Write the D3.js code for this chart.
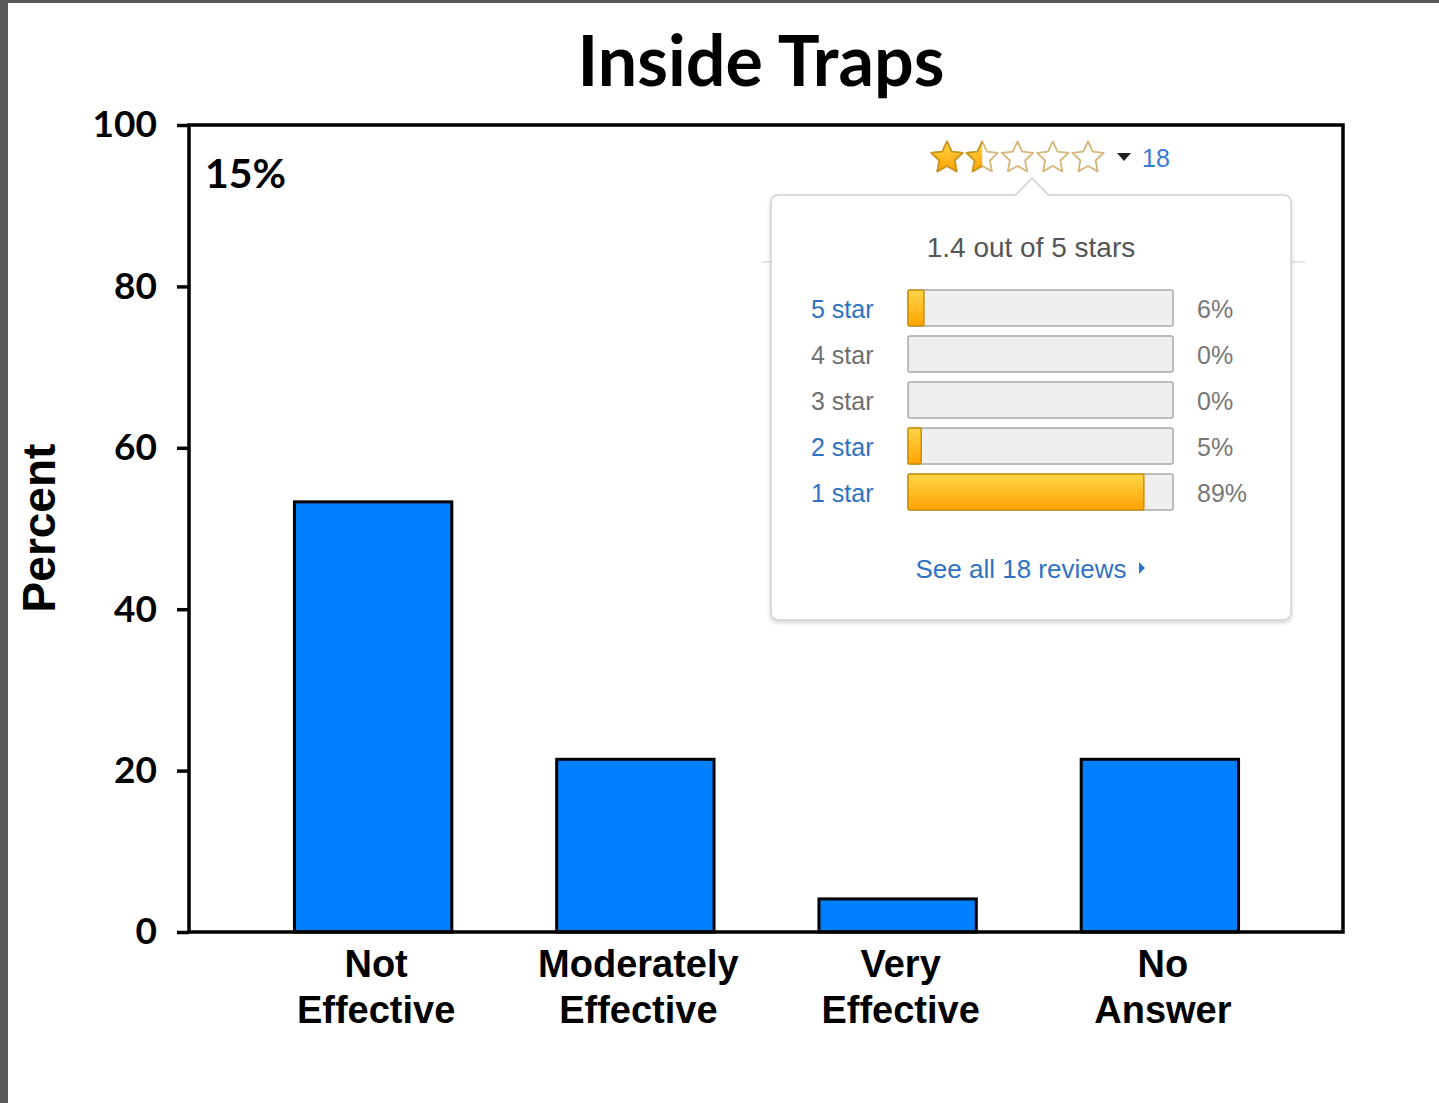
<!doctype html>
<html lang="en">
<head>
  <meta charset="utf-8">
  <title>Inside Traps</title>
  <style>
    body { margin: 0; background: #fff; }
    svg { display: block; }
    .title { font-family: Lato, "Open Sans", sans-serif; font-weight: 700; }
    .cat { font-family: "Liberation Sans", Arial, sans-serif; font-weight: 700; }
    .pop { font-family: "Liberation Sans", Arial, sans-serif; }
  </style>
</head>
<body>
  <div id="chart"></div>

  <script src="https://d3js.org/d3.v7.min.js"></script>
  <script>
    // chart data
    const categories = [['Not', 'Effective'], ['Moderately', 'Effective'], ['Very', 'Effective'], ['No', 'Answer']];
    const percents = [53.3, 21.4, 4.1, 21.4];
    const yTicks = [0, 20, 40, 60, 80, 100];
    const cornerNote = '15%';

    // the pasted review popup
    const avgRating = 1.4;
    const reviewCount = 18;
    const starRows = ['5 star', '4 star', '3 star', '2 star', '1 star'];
    const starPercents = [6, 0, 0, 5, 89];
    const starLinked = [true, false, false, true, true];

    const width = 1439;
    const height = 1103;
    const plot = { left: 189, right: 1343, top: 125, bottom: 932 };

    const svg = d3.select('#chart')
      .append('svg')
      .attr('width', width)
      .attr('height', height);

    const defs = svg.append('defs');

    // slide border (gray strip on the left and top)
    svg.append('rect').attr('x', 0).attr('y', 0).attr('width', width).attr('height', 3).attr('fill', '#595959');
    svg.append('rect').attr('x', 0).attr('y', 0).attr('width', 8).attr('height', height).attr('fill', '#595959');

    // title
    svg.append('text')
      .attr('class', 'title')
      .attr('x', 761)
      .attr('y', 86)
      .attr('text-anchor', 'middle')
      .style('font-size', '70px')
      .text('Inside Traps');

    const y = d3.scaleLinear()
      .domain([0, 100])
      .range([plot.bottom, plot.top]);

    const x = d3.scaleBand()
      .domain(d3.range(categories.length))
      .range([242, 1291])
      .paddingInner(0.4)
      .paddingOuter(0.2);

    // bars
    svg.append('g')
      .selectAll('rect')
      .data(percents)
      .join('rect')
      .attr('x', (d, i) => x(i))
      .attr('y', d => y(d))
      .attr('width', x.bandwidth())
      .attr('height', d => y(0) - y(d))
      .attr('fill', '#0080ff')
      .attr('stroke', '#000')
      .attr('stroke-width', 3);

    // frame around plot
    svg.append('rect')
      .attr('x', plot.left)
      .attr('y', plot.top)
      .attr('width', plot.right - plot.left)
      .attr('height', plot.bottom - plot.top)
      .attr('fill', 'none')
      .attr('stroke', '#000')
      .attr('stroke-width', 3.5);

    // y axis
    const yAxis = svg.append('g')
      .attr('transform', `translate(${plot.left},0)`)
      .call(d3.axisLeft(y).tickValues(yTicks).tickSize(12).tickPadding(20));
    yAxis.select('.domain').remove();
    yAxis.selectAll('.tick line').attr('stroke', '#000').attr('stroke-width', 3.5);
    yAxis.selectAll('.tick text')
      .attr('fill', '#000')
      .style('font-size', '37px')
      .style('font-family', 'Lato, sans-serif')
      .style('font-weight', 700);

    // y title
    svg.append('text')
      .attr('class', 'cat')
      .attr('transform', 'translate(55,528) rotate(-90)')
      .attr('text-anchor', 'middle')
      .style('font-size', '46px')
      .text('Percent');

    // category labels, two lines each
    const catText = svg.append('g')
      .selectAll('text')
      .data(categories)
      .join('text')
      .attr('class', 'cat')
      .attr('text-anchor', 'middle')
      .style('font-size', '38px');
    catText.selectAll('tspan')
      .data((d, i) => d.map(line => ({ line, i })))
      .join('tspan')
      .attr('x', d => x(d.i) + x.bandwidth() / 2 + 3)
      .attr('y', (d, j) => 977 + j * 46)
      .text(d => d.line);

    // corner note
    svg.append('text')
      .attr('class', 'title')
      .attr('x', 205)
      .attr('y', 188)
      .style('font-size', '41px')
      .text(cornerNote);

    // ---------- review popup ----------
    const pop = svg.append('g').attr('class', 'pop');

    // gradient for filled stars and bars
    const gold = defs.append('linearGradient')
      .attr('id', 'gold').attr('x1', 0).attr('x2', 0).attr('y1', 0).attr('y2', 1);
    gold.append('stop').attr('offset', '0%').attr('stop-color', '#ffd54a');
    gold.append('stop').attr('offset', '100%').attr('stop-color', '#ffa300');

    const shadow = defs.append('filter').attr('id', 'shadow')
      .attr('x', '-10%').attr('y', '-10%').attr('width', '120%').attr('height', '120%');
    shadow.append('feDropShadow')
      .attr('dx', 0).attr('dy', 2).attr('stdDeviation', 2)
      .attr('flood-color', '#000').attr('flood-opacity', 0.18);

    // faint header rule behind the popup
    pop.append('line')
      .attr('x1', 762).attr('x2', 1305)
      .attr('y1', 262).attr('y2', 262)
      .attr('stroke', '#dcdcdc').attr('stroke-width', 1.5);

    const box = { x: 771, y: 195, w: 520, h: 425 };
    const caretX = 1032;
    const boxPath = `M${box.x + 8},${box.y}
      H${caretX - 16} L${caretX},${box.y - 17} L${caretX + 16},${box.y}
      H${box.x + box.w - 8} Q${box.x + box.w},${box.y} ${box.x + box.w},${box.y + 8}
      V${box.y + box.h - 8} Q${box.x + box.w},${box.y + box.h} ${box.x + box.w - 8},${box.y + box.h}
      H${box.x + 8} Q${box.x},${box.y + box.h} ${box.x},${box.y + box.h - 8}
      V${box.y + 8} Q${box.x},${box.y} ${box.x + 8},${box.y} Z`;
    pop.append('path')
      .attr('d', boxPath)
      .attr('fill', '#fff')
      .attr('stroke', '#d2d2d2')
      .attr('stroke-width', 1.5)
      .attr('filter', 'url(#shadow)');

    // stars: a plump five-point star (outer 16, inner 8)
    const starPoints = d3.range(10).map(k => [k * Math.PI / 5, k % 2 ? 8 : 16.5]);
    const starShape = d3.lineRadial().curve(d3.curveLinearClosed)(starPoints);
    const filled = Math.round(avgRating * 2) / 2;
    const starX = d3.scaleLinear().domain([0, 4]).range([947, 1088]);

    defs.append('clipPath').attr('id', 'halfStar')
      .append('rect').attr('x', -20).attr('y', -20).attr('width', 20).attr('height', 40);

    const stars = pop.append('g')
      .selectAll('g')
      .data(d3.range(5))
      .join('g')
      .attr('transform', d => `translate(${starX(d)},158)`);
    stars.append('path')
      .attr('d', starShape)
      .attr('fill', '#fff')
      .attr('stroke', '#d6b67a')
      .attr('stroke-width', 1.8)
      .attr('stroke-linejoin', 'round');
    stars.filter(d => d < filled)
      .append('path')
      .attr('d', starShape)
      .attr('fill', 'url(#gold)')
      .attr('stroke', '#c9961e')
      .attr('stroke-width', 1.8)
      .attr('stroke-linejoin', 'round')
      .attr('clip-path', d => (filled - d < 1 ? 'url(#halfStar)' : null));

    pop.append('path')
      .attr('d', 'M1117,153 L1131,153 L1124,161 Z')
      .attr('fill', '#222');
    pop.append('text')
      .attr('x', 1142).attr('y', 167)
      .attr('fill', '#3a7bd0')
      .style('font-size', '25px')
      .text(reviewCount);

    pop.append('text')
      .attr('x', 1031).attr('y', 257)
      .attr('text-anchor', 'middle')
      .attr('fill', '#555')
      .style('font-size', '28px')
      .text(`${avgRating} out of 5 stars`);

    // histogram rows
    const bx = d3.scaleLinear().domain([0, 100]).range([908, 1173]);
    const by = d3.scaleBand()
      .domain(starRows)
      .range([285, 515])
      .paddingInner(0.22)
      .paddingOuter(0.11);

    const rows = pop.append('g')
      .selectAll('g')
      .data(starRows.map((label, i) => ({ label, pct: starPercents[i], linked: starLinked[i] })))
      .join('g');

    rows.append('rect')
      .attr('x', bx(0))
      .attr('y', d => by(d.label))
      .attr('width', bx(100) - bx(0))
      .attr('height', by.bandwidth())
      .attr('rx', 2)
      .attr('fill', '#efefef')
      .attr('stroke', '#a9a9a9')
      .attr('stroke-width', 1.5);

    rows.filter(d => d.pct > 0)
      .append('rect')
      .attr('x', bx(0))
      .attr('y', d => by(d.label))
      .attr('width', d => bx(d.pct) - bx(0))
      .attr('height', by.bandwidth())
      .attr('rx', 2)
      .attr('fill', 'url(#gold)')
      .attr('stroke', '#c8900a')
      .attr('stroke-width', 1.5);

    rows.append('text')
      .attr('x', 811)
      .attr('y', d => by(d.label) + by.bandwidth() / 2 + 10)
      .attr('fill', d => (d.linked ? '#2f72c4' : '#6f6f6f'))
      .style('font-size', '25px')
      .text(d => d.label);

    rows.append('text')
      .attr('x', 1197)
      .attr('y', d => by(d.label) + by.bandwidth() / 2 + 10)
      .attr('fill', '#777')
      .style('font-size', '25px')
      .text(d => d.pct + '%');

    pop.append('text')
      .attr('x', 1021).attr('y', 578)
      .attr('text-anchor', 'middle')
      .attr('fill', '#2f72c4')
      .style('font-size', '26px')
      .text(`See all ${reviewCount} reviews`);
    pop.append('path')
      .attr('d', 'M1139,562 L1145,568 L1139,574 Z')
      .attr('fill', '#2f72c4');
  </script>
</body>
</html>
